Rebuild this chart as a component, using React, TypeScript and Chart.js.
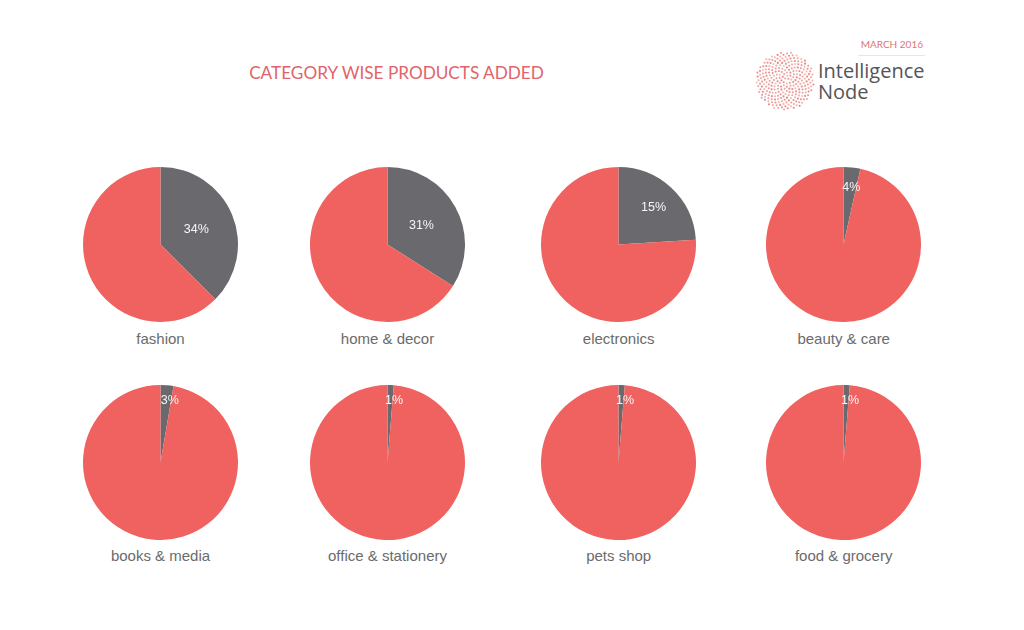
import React, { useEffect, useRef } from "react";
import { Chart, registerables } from "chart.js";

Chart.register(...registerables);

// ---- data ----
const categories = [
  "fashion",
  "home & decor",
  "electronics",
  "beauty & care",
  "books & media",
  "office & stationery",
  "pets shop",
  "food & grocery",
];
// share of products added, as the slices are drawn (percent)
const sliceShare = [37.5, 34, 24, 3.5, 2.7, 1.3, 1.3, 1.3];
// printed slice labels
const shareLabels = ["34%", "31%", "15%", "4%", "3%", "1%", "1%", "1%"];
const titleText = "CATEGORY WISE PRODUCTS ADDED";
const dateText = "MARCH 2016";
const brandLines = ["Intelligence", "Node"];

// ---- styles ----
const RED = "#f0625f";
const GRAY = "#6a6a6e";
const TEXT_GRAY = "#6b6b6b";
const TITLE_RED = "#e0646a";
const colX = [160.5, 387.5, 618.7, 843.7];
const rowY = [244.5, 462];
const SIZE = 155;

function makeLabelPlugin(text: string, share: number) {
  return {
    id: "sliceLabel",
    afterDatasetsDraw(chart: any) {
      const meta = chart.getDatasetMeta(0);
      const arc: any = meta.data[0];
      if (!arc) return;
      const { x, y, outerRadius, startAngle, endAngle } = arc.getProps(
        ["x", "y", "outerRadius", "startAngle", "endAngle"],
        true
      );
      const mid = (startAngle + endAngle) / 2;
      const frac =
        share > 30 ? 0.5 : share > 10 ? 0.66 : share > 3 ? 0.74 : 0.8;
      let tx = x + Math.cos(mid) * outerRadius * frac;
      const ty = y + Math.sin(mid) * outerRadius * frac;
      if (share < 10) tx += share > 3 ? 1.5 : 4;
      const ctx = chart.ctx;
      ctx.save();
      ctx.font = "12.5px 'Liberation Sans', Arial, sans-serif";
      ctx.fillStyle = "#f6f6f6";
      ctx.textAlign = "center";
      ctx.textBaseline = "middle";
      ctx.fillText(text, tx, ty);
      ctx.restore();
    },
  };
}

function Pie({ idx }: { idx: number }) {
  const ref = useRef<HTMLCanvasElement>(null);
  const share = sliceShare[idx];
  useEffect(() => {
    const chart = new Chart(ref.current as HTMLCanvasElement, {
      type: "pie",
      data: {
        labels: ["added", "rest"],
        datasets: [
          {
            data: [share, 100 - share],
            backgroundColor: [GRAY, RED],
            borderWidth: 0,
          },
        ],
      },
      options: {
        responsive: false,
        animation: false,
        events: [],
        layout: { padding: 0 },
        plugins: {
          legend: { display: false },
          tooltip: { enabled: false },
        },
      } as any,
      plugins: [makeLabelPlugin(shareLabels[idx], share)],
    });
    return () => chart.destroy();
  }, []);
  const cx = colX[idx % 4];
  const cy = rowY[Math.floor(idx / 4)];
  return (
    <>
      <canvas
        ref={ref}
        width={SIZE}
        height={SIZE}
        style={{
          position: "absolute",
          left: cx - SIZE / 2,
          top: cy - SIZE / 2,
          width: SIZE,
          height: SIZE,
        }}
      />
      <div
        style={{
          position: "absolute",
          left: cx - 100,
          width: 200,
          top: cy + 94 - 10,
          height: 20,
          lineHeight: "20px",
          textAlign: "center",
          fontFamily: "'Liberation Sans', Arial, sans-serif",
          fontSize: 15,
          color: TEXT_GRAY,
        }}
      >
        {categories[idx]}
      </div>
    </>
  );
}

function LogoDots() {
  const dots: JSX.Element[] = [];
  const N = 260;
  const R = 29;
  const c = R / Math.sqrt(N);
  for (let n = 1; n <= N; n++) {
    const r = c * Math.sqrt(n);
    const a = n * 2.39996;
    const op = 0.45 + (0.4 * ((n * 7) % 10)) / 10;
    dots.push(
      <circle
        key={n}
        cx={30 + r * Math.cos(a)}
        cy={30 + r * Math.sin(a)}
        r={1.05}
        fill="#e06a66"
        opacity={op}
      />
    );
  }
  return (
    <svg
      width={60}
      height={60}
      style={{ position: "absolute", left: 755, top: 51 }}
    >
      {dots}
    </svg>
  );
}

export default function App() {
  return (
    <div
      style={{
        position: "fixed",
        left: 0,
        top: 0,
        width: 1024,
        height: 630,
        background: "#ffffff",
        overflow: "hidden",
      }}
    >
      <div
        style={{
          position: "absolute",
          left: 396.5 - 250,
          width: 500,
          top: 61,
          height: 24,
          lineHeight: "24px",
          textAlign: "center",
          fontFamily: "Lato, 'Open Sans', sans-serif",
          fontSize: 17.2,
          color: TITLE_RED,
        }}
      >
        {titleText}
      </div>
      <div
        style={{
          position: "absolute",
          left: 840,
          width: 83,
          top: 37,
          height: 14,
          lineHeight: "14px",
          textAlign: "right",
          fontFamily: "Lato, 'Open Sans', sans-serif",
          fontSize: 10,
          color: "#e07474",
        }}
      >
        {dateText}
      </div>
      <div
        style={{
          position: "absolute",
          left: 858,
          width: 67,
          top: 55,
          height: 1,
          background: "#e6e6e6",
        }}
      />
      <LogoDots />
      {brandLines.map((t, i) => (
        <div
          key={t}
          style={{
            position: "absolute",
            left: 818,
            top: 59 + i * 21,
            height: 24,
            lineHeight: "24px",
            fontFamily: "'Open Sans', Lato, sans-serif",
            fontSize: 20,
            color: "#555558",
            whiteSpace: "nowrap",
          }}
        >
          {t}
        </div>
      ))}
      {categories.map((_, i) => (
        <Pie key={i} idx={i} />
      ))}
    </div>
  );
}
